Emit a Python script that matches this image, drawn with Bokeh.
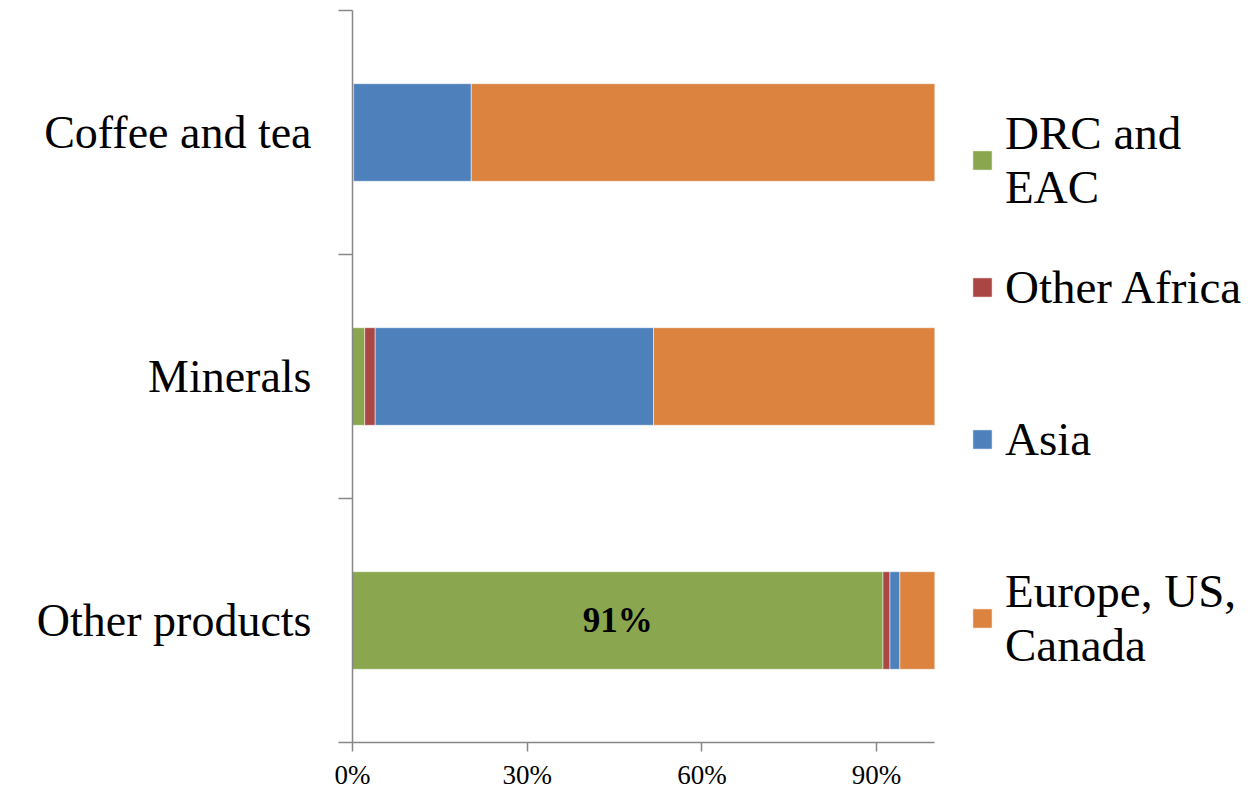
from bokeh.plotting import figure
from bokeh.models import (ColumnDataSource, Range1d, FixedTicker, PrintfTickFormatter,
                          Legend, LegendItem)
from bokeh.embed import file_html
from bokeh.resources import INLINE
from bokeh.core.properties import value

# ---- data (top-to-bottom category order) ----
categories = ["Coffee and tea", "Minerals", "Other products"]
series_names = ["DRC and EAC", "Other Africa", "Asia", "Europe, US, Canada"]
legend_labels = ["DRC and\nEAC", "Other Africa", "Asia", "Europe, US,\nCanada"]
drc_eac = [0.1, 2.1, 91.1]
other_africa = [0.1, 1.8, 1.2]
asia = [20.2, 47.8, 1.7]
europe = [79.6, 48.3, 6.0]
colors = ["#8AA64F", "#AA4643", "#4E80BC", "#DB833F"]
x_ticks = [0, 30, 60, 90]
x_max = 100
labelled_categories = ["Other products"]

FONT = "Liberation Serif"
AXIS_COLOR = "#878787"

# layout: plot area from x=352 px; the 0-100% scale spans 582 px,
# the frame continues to the right edge so the legend sits inside it
LEFT = 352
SCALE_PX = 582.3
W, H = 1257, 792
frame_px = W - LEFT
x_end = x_max * frame_px / SCALE_PX
# legend entry offsets (px above the frame bottom), one per entry
legend_y = [528, 428, 276, 70]

n = len(categories)
ys = [n - i - 0.5 for i in range(n)]
keys = ["drc", "oaf", "asia", "eur"]
source = ColumnDataSource(dict(y=ys, drc=drc_eac, oaf=other_africa, asia=asia, eur=europe))

p = figure(width=W, height=H, output_backend="svg", toolbar_location=None,
           x_range=Range1d(0, x_end), y_range=Range1d(0, n),
           min_border_left=LEFT, min_border_right=0, min_border_top=10, min_border_bottom=50)
p.outline_line_color = None
p.xgrid.visible = False
p.ygrid.visible = False
p.background_fill_color = "white"
p.border_fill_color = "white"

renderers = p.hbar_stack(keys, y="y", height=0.4, color=colors, source=source,
                         line_color="white", line_alpha=0.5, line_width=1)

# data label (bold) in the middle of the first segment
lab_y = [ys[categories.index(c)] for c in labelled_categories]
lab_v = [drc_eac[categories.index(c)] for c in labelled_categories]
lab_src = ColumnDataSource(dict(x=[v / 2 for v in lab_v], y=lab_y,
                                t=[f"{round(v)}%" for v in lab_v]))
p.text(x="x", y="y", text="t", source=lab_src, text_font=value(FONT),
       text_font_style="bold", text_font_size="35px", text_align="center",
       text_baseline="middle", text_color="black")

# x axis
xa = p.xaxis[0]
xa.bounds = (0, x_max)
xa.ticker = FixedTicker(ticks=x_ticks, minor_ticks=[])
xa.formatter = PrintfTickFormatter(format="%d%%")
xa.major_tick_in = 0
xa.major_tick_out = 9
xa.minor_tick_out = 0
xa.major_tick_line_color = AXIS_COLOR
xa.major_tick_line_width = 1.5
xa.axis_line_color = AXIS_COLOR
xa.axis_line_width = 1.5
xa.major_label_text_font = FONT
xa.major_label_text_font_size = "27px"
xa.major_label_text_color = "black"
xa.major_label_standoff = 8

# y axis: labels at category centres, ticks at category boundaries
ya = p.yaxis[0]
ya.ticker = FixedTicker(ticks=ys, minor_ticks=list(range(n + 1)))
ya.major_label_overrides = {y: c for y, c in zip(ys, categories)}
ya.major_tick_in = 0
ya.major_tick_out = 0
ya.minor_tick_in = 0
ya.minor_tick_out = 14
ya.minor_tick_line_color = AXIS_COLOR
ya.minor_tick_line_width = 1.5
ya.axis_line_color = AXIS_COLOR
ya.axis_line_width = 1.5
ya.major_label_text_font = FONT
ya.major_label_text_font_size = "46px"
ya.major_label_text_color = "black"
ya.major_label_standoff = 27

for lbl, r, ly in zip(legend_labels, renderers, legend_y):
    legend = Legend(items=[LegendItem(label=lbl, renderers=[r])], location=(618, ly))
    legend.label_text_font = FONT
    legend.label_text_font_size = "47px"
    legend.label_text_color = "black"
    legend.glyph_width = 24
    legend.glyph_height = 24
    legend.label_standoff = 11
    legend.padding = 0
    legend.margin = 0
    legend.border_line_color = None
    legend.background_fill_alpha = 0
    p.add_layout(legend, "center")

open("out.html", "w").write(file_html(p, INLINE))
